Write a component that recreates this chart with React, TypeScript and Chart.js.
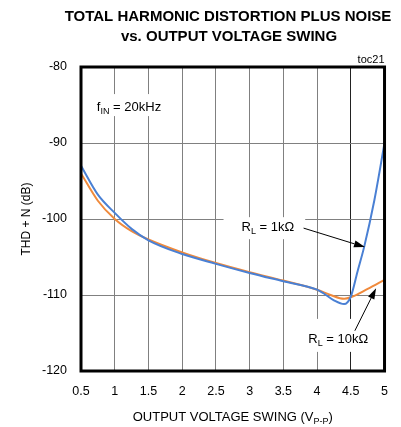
import { useEffect, useRef } from 'react';
import { Chart, registerables } from 'chart.js';

Chart.register(...registerables);

const FONT = '"Liberation Sans", Arial, sans-serif';

const titleLines = ['TOTAL HARMONIC DISTORTION PLUS NOISE', 'vs. OUTPUT VOLTAGE SWING'];

const xTicks = [0.5, 1, 1.5, 2, 2.5, 3, 3.5, 4, 4.5, 5];
const xTickLabels = ['0.5', '1', '1.5', '2', '2.5', '3', '3.5', '4', '4.5', '5'];
const yTicks = [-120, -110, -100, -90, -80];
const yTickLabels = ['-120', '-110', '-100', '-90', '-80'];

// RL = 1kΩ (blue)
const rl1kX = [0.5, 0.75, 1, 1.25, 1.5, 2, 2.5, 3, 3.5, 4, 4.1, 4.25, 4.4, 4.5, 4.6, 4.7, 4.85, 5];
const rl1kY = [-93.0, -96.8, -99.2, -101.3, -102.8, -104.6, -105.9, -107.1, -108.2, -109.3, -109.8, -110.7, -111.2, -110.2, -106.9, -103.6, -97.5, -90.0];

// RL = 10kΩ (orange)
const rl10kX = [0.5, 0.75, 1, 1.25, 1.5, 2, 2.5, 3, 3.5, 4, 4.2, 4.4, 4.5, 4.75, 5];
const rl10kY = [-94.0, -97.6, -100.0, -101.6, -102.7, -104.4, -105.8, -107.0, -108.1, -109.3, -110.0, -110.5, -110.3, -109.2, -108.0];

type Part = { t: string; sub?: boolean };

// annotation anchors (data units): left / baseline of text
const labels: { parts: Part[]; x: number; y: number; box: [number, number, number, number] }[] = [
  { parts: [{ t: 'f' }, { t: 'IN', sub: true }, { t: ' = 20kHz' }], x: 0.735, y: -85.8, box: [4, 7, 4, 5] },
  { parts: [{ t: 'R' }, { t: 'L', sub: true }, { t: ' = 1kΩ' }], x: 2.88, y: -101.6, box: [18, 4, 11, 8] },
  { parts: [{ t: 'R' }, { t: 'L', sub: true }, { t: ' = 10kΩ' }], x: 3.87, y: -116.3, box: [10, 14, 10, 9] },
];

// arrows (data units): from -> tip
const arrows = [
  { x1: 3.8, y1: -101.2, x2: 4.71, y2: -103.7 },
  { x1: 4.56, y1: -114.7, x2: 4.875, y2: -109.1 },
];

const LABEL_SIZE = 13;

function richWidth(ctx: CanvasRenderingContext2D, parts: Part[], size: number) {
  let w = 0;
  for (const p of parts) {
    ctx.font = `${p.sub ? Math.round(size * 0.72) : size}px ${FONT}`;
    w += ctx.measureText(p.t).width;
  }
  return w;
}

function drawRich(ctx: CanvasRenderingContext2D, parts: Part[], x: number, y: number, size: number) {
  let cx = x;
  for (const p of parts) {
    ctx.font = `${p.sub ? Math.round(size * 0.72) : size}px ${FONT}`;
    ctx.fillText(p.t, cx, p.sub ? y + size * 0.22 : y);
    cx += ctx.measureText(p.t).width;
  }
  return cx - x;
}

const annotPlugin = {
  id: 'annot',
  beforeDatasetsDraw(chart: any) {
    const ctx = chart.ctx as CanvasRenderingContext2D;
    const xs = chart.scales.x;
    const ys = chart.scales.y;
    ctx.save();
    ctx.textBaseline = 'alphabetic';
    ctx.textAlign = 'left';
    for (const l of labels) {
      const px = xs.getPixelForValue(l.x);
      const py = ys.getPixelForValue(l.y);
      const w = richWidth(ctx, l.parts, LABEL_SIZE);
      const [pl, pt, pr, pb] = l.box;
      ctx.fillStyle = '#fff';
      ctx.fillRect(px - pl, py - 10 - pt, w + pl + pr, 10 + pt + pb);
      ctx.fillStyle = '#000';
      drawRich(ctx, l.parts, px, py, LABEL_SIZE);
    }
    ctx.restore();
  },
  afterDatasetsDraw(chart: any) {
    const ctx = chart.ctx as CanvasRenderingContext2D;
    const xs = chart.scales.x;
    const ys = chart.scales.y;
    const { left, right, top, bottom } = chart.chartArea;
    ctx.save();
    for (const a of arrows) {
      const x1 = xs.getPixelForValue(a.x1);
      const y1 = ys.getPixelForValue(a.y1);
      const x2 = xs.getPixelForValue(a.x2);
      const y2 = ys.getPixelForValue(a.y2);
      const ang = Math.atan2(y2 - y1, x2 - x1);
      const len = 11;
      const hw = 3.5;
      const bx = x2 - len * Math.cos(ang);
      const by = y2 - len * Math.sin(ang);
      ctx.strokeStyle = '#000';
      ctx.lineWidth = 1;
      ctx.beginPath();
      ctx.moveTo(x1, y1);
      ctx.lineTo(bx, by);
      ctx.stroke();
      ctx.fillStyle = '#000';
      ctx.beginPath();
      ctx.moveTo(x2, y2);
      ctx.lineTo(bx + hw * Math.sin(ang), by - hw * Math.cos(ang));
      ctx.lineTo(bx - hw * Math.sin(ang), by + hw * Math.cos(ang));
      ctx.closePath();
      ctx.fill();
    }
    ctx.strokeStyle = '#000';
    ctx.lineWidth = 3;
    ctx.strokeRect(left, top, right - left, bottom - top);
    ctx.restore();
  },
  afterDraw(chart: any) {
    const ctx = chart.ctx as CanvasRenderingContext2D;
    const { left, right, top, bottom } = chart.chartArea;
    ctx.save();
    ctx.fillStyle = '#000';
    ctx.textAlign = 'center';
    ctx.textBaseline = 'middle';
    ctx.font = `bold 15px ${FONT}`;
    ctx.fillText(titleLines[0], 228, 17);
    ctx.fillText(titleLines[1], 229, 37);
    ctx.textAlign = 'right';
    ctx.textBaseline = 'alphabetic';
    ctx.font = `11px ${FONT}`;
    ctx.fillText('toc21', right, top - 4);
    const xParts: Part[] = [{ t: 'OUTPUT VOLTAGE SWING (V' }, { t: 'P-P', sub: true }, { t: ')' }];
    ctx.textAlign = 'left';
    const w = richWidth(ctx, xParts, 13);
    drawRich(ctx, xParts, (left + right) / 2 - w / 2, 421, 13);
    ctx.save();
    ctx.translate(27, (top + bottom) / 2);
    ctx.rotate(-Math.PI / 2);
    ctx.textAlign = 'center';
    ctx.textBaseline = 'middle';
    ctx.font = `12px ${FONT}`;
    ctx.fillText('THD + N (dB)', 0, 0);
    ctx.restore();
    ctx.restore();
  },
};

export default function App() {
  const ref = useRef<HTMLCanvasElement | null>(null);
  useEffect(() => {
    if (!ref.current) return;
    const chart = new Chart(ref.current, {
      type: 'line',
      data: {
        datasets: [
          {
            label: 'RL = 1kΩ',
            data: rl1kX.map((x, i) => ({ x, y: rl1kY[i] })),
            borderColor: '#4a80d4',
            borderWidth: 2,
            pointRadius: 0,
            cubicInterpolationMode: 'monotone',
            fill: false,
          },
          {
            label: 'RL = 10kΩ',
            data: rl10kX.map((x, i) => ({ x, y: rl10kY[i] })),
            borderColor: '#f08a3c',
            borderWidth: 2,
            pointRadius: 0,
            cubicInterpolationMode: 'monotone',
            fill: false,
          },
        ],
      },
      options: {
        animation: false,
        responsive: false,
        devicePixelRatio: 1,
        layout: { padding: { top: 67, right: 14, bottom: 0, left: 0 } },
        plugins: { legend: { display: false }, tooltip: { enabled: false }, title: { display: false } },
        scales: {
          x: {
            type: 'linear',
            min: 0.5,
            max: 5,
            afterBuildTicks: (s: any) => {
              s.ticks = xTicks.map((v) => ({ value: v }));
            },
            afterFit: (s: any) => {
              s.height = 56;
            },
            ticks: {
              callback: (_v: any, i: number) => xTickLabels[i],
              font: { family: FONT, size: 12.5 },
              color: '#000',
              padding: 13,
              maxRotation: 0,
              autoSkip: false,
            },
            grid: {
              drawTicks: false,
              color: (c: any) => (c.tick && c.tick.value === 4.5 ? '#222' : '#808080'),
              lineWidth: 1,
            },
            border: { display: false },
          },
          y: {
            type: 'linear',
            min: -120,
            max: -80,
            afterBuildTicks: (s: any) => {
              s.ticks = yTicks.map((v) => ({ value: v }));
            },
            afterFit: (s: any) => {
              s.width = 81;
            },
            ticks: {
              callback: (_v: any, i: number) => yTickLabels[i],
              font: { family: FONT, size: 12.5 },
              color: '#000',
              padding: 14,
            },
            grid: { drawTicks: false, color: '#808080', lineWidth: 1 },
            border: { display: false },
          },
        },
      },
      plugins: [annotPlugin],
    });
    return () => chart.destroy();
  }, []);
  return (
    <div style={{ position: 'absolute', left: 0, top: 0, width: 401, height: 427, background: '#fff' }}>
      <canvas ref={ref} width={401} height={427} style={{ width: 401, height: 427 }} />
    </div>
  );
}
